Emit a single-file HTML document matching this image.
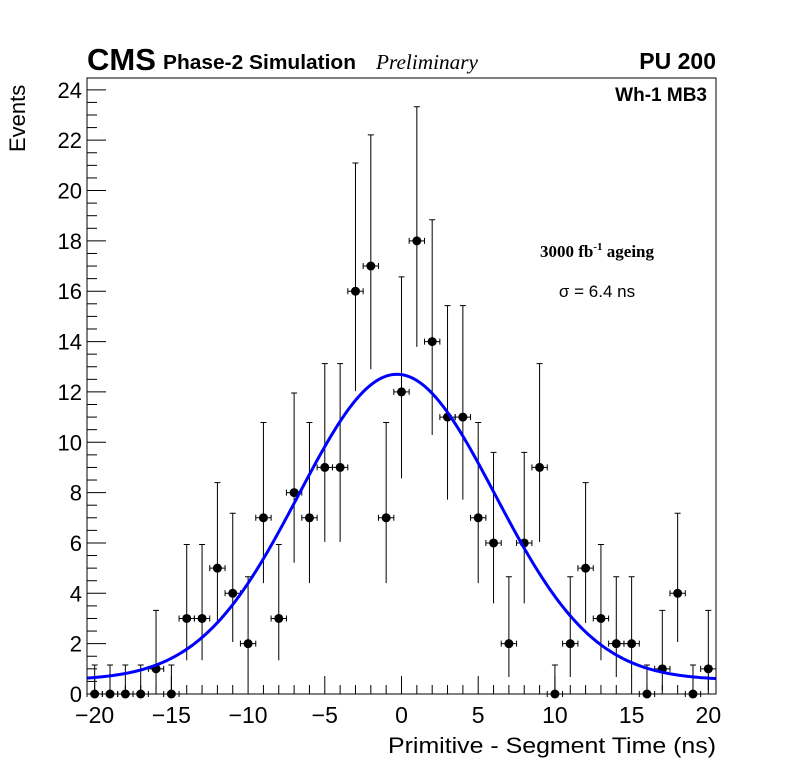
<!DOCTYPE html>
<html><head><meta charset="utf-8"><style>
body{margin:0;background:#fff;}
svg{display:block;font-family:"Liberation Sans",sans-serif;}
</style></head><body>
<svg id="c" width="796" height="772" xmlns="http://www.w3.org/2000/svg">
<rect width="796" height="772" fill="#fff"/>
<text x="87" y="70" font-size="31" font-weight="bold">CMS</text>
<text x="163" y="69" font-size="20" font-weight="bold" textLength="193" lengthAdjust="spacingAndGlyphs">Phase-2 Simulation</text>
<text x="376" y="69" font-size="21" font-style="italic" font-family="Liberation Serif,serif" textLength="102" lengthAdjust="spacingAndGlyphs">Preliminary</text>
<text x="716" y="69" font-size="23" font-weight="bold" text-anchor="end">PU 200</text>
<text x="707" y="101" font-size="19" font-weight="bold" text-anchor="end">Wh-1 MB3</text>
<text x="597" y="257" font-size="17" font-weight="bold" text-anchor="middle" font-family="Liberation Serif,serif">3000 fb<tspan dy="-7" font-size="11">-1</tspan><tspan dy="7"> ageing</tspan></text>
<text x="597" y="297" font-size="17" text-anchor="middle">σ = 6.4 ns</text>
<text x="716" y="753" font-size="22" text-anchor="end" textLength="328" lengthAdjust="spacingAndGlyphs">Primitive - Segment Time (ns)</text>
<text transform="translate(25,152) rotate(-90)" font-size="22">Events</text>
<g id="plot"></g>
<rect x="87" y="78" width="629" height="616" fill="none" stroke="#000" stroke-width="1"/>
</svg>
<script>
const binCenters=[-20,-19,-18,-17,-16,-15,-14,-13,-12,-11,-10,-9,-8,-7,-6,-5,-4,-3,-2,-1,0,1,2,3,4,5,6,7,8,9,10,11,12,13,14,15,16,17,18,19,20];
const counts=[0,0,0,0,1,0,3,3,5,4,2,7,3,8,7,9,9,16,17,7,12,18,14,11,11,7,6,2,6,9,0,2,5,3,2,2,0,1,4,0,1];
const xTicks=[-20,-15,-10,-5,0,5,10,15,20];
const xTickLabels=["\u221220","\u221215","\u221210","\u22125","0","5","10","15","20"];
const yTicks=[0,2,4,6,8,10,12,14,16,18,20,22,24];
const fitParams=[12.15,-0.3,6.4,0.55]; // amplitude, mean, sigma, constant
const X0=87,X1=716,Y0=694,Y1=78;
const xMin=-20.5,xMax=20.5,yMin=0,yMax=24.47;
const sx=v=>X0+(v-xMin)/(xMax-xMin)*(X1-X0);
const sy=v=>Y0-(v-yMin)/(yMax-yMin)*(Y0-Y1);
const NS="http://www.w3.org/2000/svg";
const g=document.getElementById('plot');
function mk(t,a){const e=document.createElementNS(NS,t);for(const k in a)e.setAttribute(k,a[k]);g.appendChild(e);return e;}
for(let v=-20;v<=20;v++){
  const major=v%5===0;
  const l=mk('line',{x1:sx(v),x2:sx(v),y1:Y0,y2:Y0-(major?18:9),stroke:'#000','stroke-width':1});
  
  
}
xTicks.forEach((v,i)=>{
  const t=mk('text',{x:sx(v),y:723,'font-size':23,'text-anchor':'middle'});
  t.textContent=xTickLabels[i];
  
  
});
for(let v=0;v<=24.4;v+=0.5){
  const major=Math.abs(v%2)<1e-6;
  const l=mk('line',{x1:X0,x2:X0+(major?19:10),y1:sy(v),y2:sy(v),stroke:'#000','stroke-width':1});
  
  
}
yTicks.forEach(v=>{
  const t=mk('text',{x:82,y:sy(v)+8,'font-size':22,'text-anchor':'end'});
  t.textContent=String(v);
  
  
});
let d='';
for(let i=0;i<=400;i++){
  const x=xMin+(xMax-xMin)*i/400;
  const y=fitParams[3]+fitParams[0]*Math.exp(-Math.pow(x-fitParams[1],2)/(2*fitParams[2]*fitParams[2]));
  d+=(i?'L':'M')+sx(x).toFixed(2)+','+sy(y).toFixed(2);
}
binCenters.forEach((c,i)=>{
  const n=counts[i];
  const up=n===0?1.15:n+Math.sqrt(n+0.75)+1;
  const lo=n===0?0:Math.max(0,n-Math.sqrt(n-0.25));
  const px=sx(c),py=sy(n);
  const e=mk('path',{d:`M${px},${sy(up)}V${sy(lo)}M${sx(c-0.5)},${py}H${sx(c+0.5)}M${sx(c-0.5)},${py-3}v6M${sx(c+0.5)},${py-3}v6M${px-3},${sy(up)}h6`,stroke:'#000','stroke-width':1,fill:'none'});
  
  
  const p=mk('circle',{cx:px,cy:py,r:4.5,fill:'#000'});
  
  
});
const f=mk('path',{d:d,stroke:'#0000ff','stroke-width':3,fill:'none'});


</script>
</body></html>
